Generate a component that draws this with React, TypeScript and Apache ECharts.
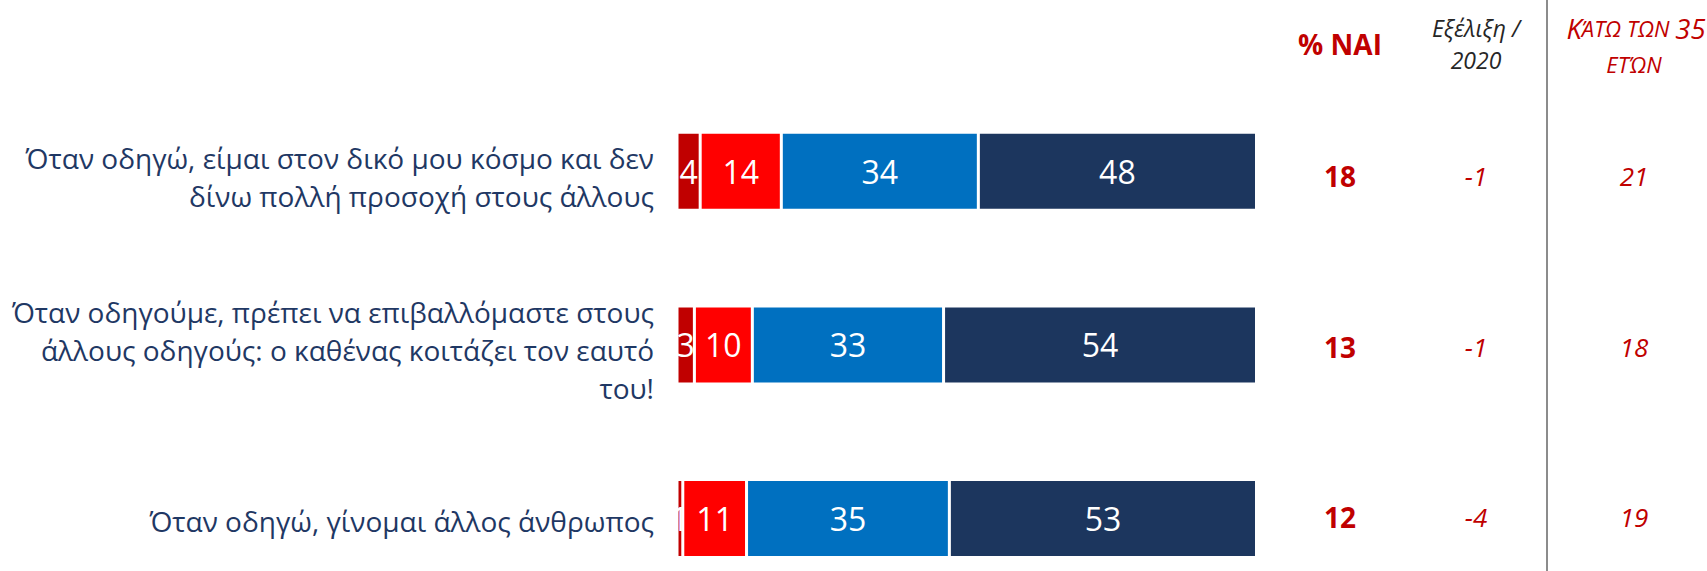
import React, { useEffect, useRef } from "react";
import * as echarts from "echarts";

const categories = [
  "Όταν οδηγώ, είμαι στον δικό μου κόσμο και δεν\nδίνω πολλή προσοχή στους άλλους",
  "Όταν οδηγούμε, πρέπει να επιβαλλόμαστε στους\nάλλους οδηγούς: ο καθένας κοιτάζει τον εαυτό\nτου!",
  "Όταν οδηγώ, γίνομαι άλλος άνθρωπος",
];
const veryMuch = [4, 3, 1];
const quite = [14, 10, 11];
const little = [34, 33, 35];
const notAtAll = [48, 54, 53];

const yesPct = [18, 13, 12];
const change2020 = [-1, -1, -4];
const under35 = [21, 18, 19];

const FONT = "'Open Sans', Roboto, sans-serif";
const NAVY_TEXT = "#1F3864";
const RED = "#C00000";

const rowY = [176, 346.5, 516.5];
const labelOffset = [6, 5, 2];

export default function App() {
  const ref = useRef<HTMLDivElement>(null);
  useEffect(() => {
    if (!ref.current) return;
    const chart = echarts.init(ref.current, null, { renderer: "svg" });
    const mk = (name: string, data: number[], color: string) => ({
      name,
      type: "bar",
      stack: "total",
      data,
      barWidth: 78,
      itemStyle: { color, borderColor: "#ffffff", borderWidth: 1.5 },
      label: {
        show: true,
        position: "inside",
        color: "#ffffff",
        fontSize: 32,
        fontFamily: FONT,
      },
    });
    const texts: any[] = [];
    const txt = (x: number, y: number, text: string, extra: any) => ({
      type: "text",
      x,
      y,
      style: {
        text,
        fontFamily: FONT,
        align: "center",
        verticalAlign: "middle",
        textAlign: "center",
        textVerticalAlign: "middle",
        ...extra,
      },
    });
    yesPct.forEach((v, i) =>
      texts.push(txt(1340, rowY[i], String(v), { fill: RED, fontSize: 28, fontWeight: "bold" }))
    );
    change2020.forEach((v, i) =>
      texts.push(txt(1476, rowY[i], String(v), { fill: RED, fontSize: 26, fontStyle: "italic" }))
    );
    under35.forEach((v, i) =>
      texts.push(txt(1634, rowY[i], String(v), { fill: RED, fontSize: 26, fontStyle: "italic" }))
    );
    texts.push(txt(1340, 44, "% NAI", { fill: RED, fontSize: 28, fontWeight: "bold" }));
    texts.push(
      txt(1476, 44, "Εξέλιξη /\n2020", {
        fill: "#262626",
        fontSize: 23,
        fontStyle: "italic",
        lineHeight: 32,
      })
    );
    texts.push(
      txt(1636, 28, "{a|Κ}{b|ΆΤΩ ΤΩΝ }{a|35}", {
        fill: RED,
        fontStyle: "italic",
        rich: {
          a: { fontSize: 27.5, fontStyle: "italic", fill: RED, fontFamily: FONT },
          b: { fontSize: 22, fontStyle: "italic", fill: RED, fontFamily: FONT },
        },
      })
    );
    texts.push(txt(1634, 64, "ΕΤΏΝ", { fill: RED, fontSize: 22, fontStyle: "italic" }));
    texts.push({
      type: "line",
      shape: { x1: 1547, y1: 0, x2: 1547, y2: 571 },
      style: { stroke: "#8C8C8C", lineWidth: 2 },
    });

    chart.setOption({
      animation: false,
      grid: { left: 677, top: 84.4, width: 579.5, height: 521, containLabel: false },
      xAxis: {
        type: "value",
        min: 0,
        max: 100,
        show: false,
      },
      yAxis: {
        type: "category",
        inverse: true,
        data: categories,
        axisLine: { show: false },
        axisTick: { show: false },
        axisLabel: { show: false },
      },
      series: [
        mk("Πολύ", veryMuch, "#C00000"),
        mk("Αρκετά", quite, "#FF0000"),
        mk("Λίγο", little, "#0070C0"),
        mk("Καθόλου", notAtAll, "#1C365E"),
      ],
    });

    const xLeft = chart.convertToPixel({ xAxisIndex: 0 }, 0) as number;
    categories.forEach((c, i) => {
      const y = chart.convertToPixel({ yAxisIndex: 0 }, i) as number;
      texts.push({
        type: "text",
        x: xLeft - 23,
        y: y + labelOffset[i],
        style: {
          text: c,
          fontFamily: FONT,
          fontSize: 28,
          lineHeight: 38,
          fill: NAVY_TEXT,
          align: "right",
          verticalAlign: "middle",
          textAlign: "right",
          textVerticalAlign: "middle",
        },
      });
    });
    chart.setOption({ graphic: texts });
    return () => chart.dispose();
  }, []);
  return (
    <div
      ref={ref}
      style={{ position: "fixed", left: 0, top: 0, width: 1707, height: 660, background: "#fff" }}
    />
  );
}
